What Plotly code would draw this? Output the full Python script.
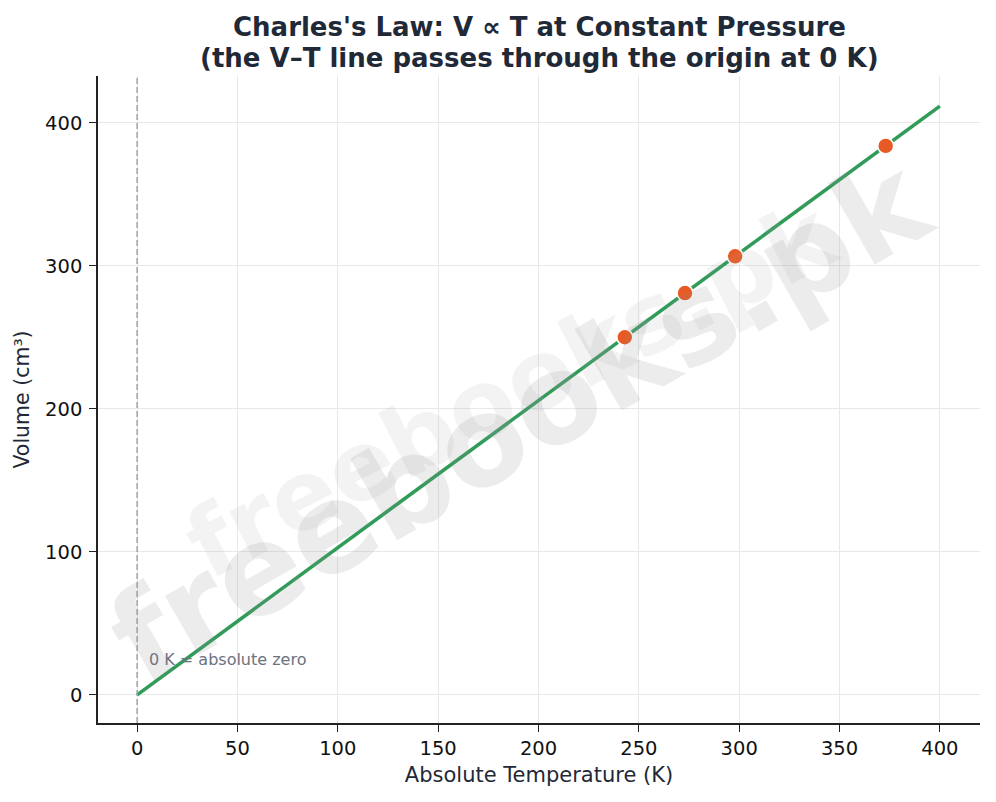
import plotly.graph_objects as go

# Data
temps_line = [0, 400]
vols_line = [0, 411.7]
temps_pts = [243, 273, 298, 373]
vols_pts = [250.1, 281.0, 306.7, 383.9]
x_ticks = [0, 50, 100, 150, 200, 250, 300, 350, 400]
y_ticks = [0, 100, 200, 300, 400]
title_lines = ["Charles's Law: V ∝ T at Constant Pressure",
               "(the V–T line passes through the origin at 0 K)"]

fig = go.Figure()

fig.add_trace(go.Scatter(
    x=temps_line, y=vols_line, mode="lines",
    line=dict(color="#319b5a", width=3.6),
    showlegend=False, hoverinfo="skip"))

fig.add_trace(go.Scatter(
    x=temps_pts, y=vols_pts, mode="markers",
    marker=dict(color="#e85a24", size=16, line=dict(color="white", width=1.6)),
    showlegend=False))

# absolute zero dashed line
fig.add_shape(type="line", xref="x", yref="paper", x0=0, x1=0, y0=0, y1=1,
              line=dict(color="#9ca3af", width=1.5, dash="6px,3px"), layer="above")

fig.add_annotation(x=5, y=25, xref="x", yref="y", text="0 K = absolute zero",
                   showarrow=False, xanchor="left", yanchor="middle",
                   font=dict(family="DejaVu Sans", size=16, color="#6b7280"))

# watermark
fig.add_annotation(x=0.468, y=0.515, xref="paper", yref="paper", text="<b>freebooks.pk</b>",
                   showarrow=False, textangle=-27,
                   font=dict(family="DejaVu Sans", size=96, color="rgba(160,160,170,0.13)"))
fig.add_annotation(x=0.478, y=0.468, xref="paper", yref="paper", text="<b>freebooks.pk</b>",
                   showarrow=False, textangle=-30,
                   font=dict(family="DejaVu Sans", size=124, color="rgba(140,140,140,0.17)"))

# title (two lines, centred over plot area)
for txt, yy in zip(title_lines, [1.0757, 1.0275]):
    fig.add_annotation(x=0.5, y=yy, xref="paper", yref="paper", text="<b>" + txt + "</b>",
                       showarrow=False, xanchor="center", yanchor="middle",
                       font=dict(family="DejaVu Sans", size=26, color="#1f2937"))

fig.update_layout(
    width=996, height=802,
    margin=dict(l=90, r=24, t=68, b=87),
    paper_bgcolor="white", plot_bgcolor="white",
    font=dict(family="DejaVu Sans", color="#111111"),
    xaxis=dict(
        range=[-19.5, 420], tickvals=x_ticks, showgrid=True, gridcolor="#e8e8e8", gridwidth=1,
        zeroline=False, showline=True, linecolor="#222222", linewidth=1.5, automargin=False,
        ticks="outside", ticklen=7, tickcolor="#222222", tickfont=dict(size=19.5, color="#111111"),
        title=dict(text="Absolute Temperature (K)", font=dict(size=21, color="#1f2937"), standoff=8)),
    yaxis=dict(
        range=[-19.7, 432.8], tickvals=y_ticks, showgrid=True, gridcolor="#e8e8e8", gridwidth=1,
        zeroline=False, showline=True, linecolor="#222222", linewidth=1.5, automargin=False,
        ticks="outside", ticklen=7, tickcolor="#222222", tickfont=dict(size=19.5, color="#111111"),
        ticklabelstandoff=3,
        title=dict(text="Volume (cm³)", font=dict(size=20.5, color="#1f2937"), standoff=10)),
)

fig.write_html("out.html")
